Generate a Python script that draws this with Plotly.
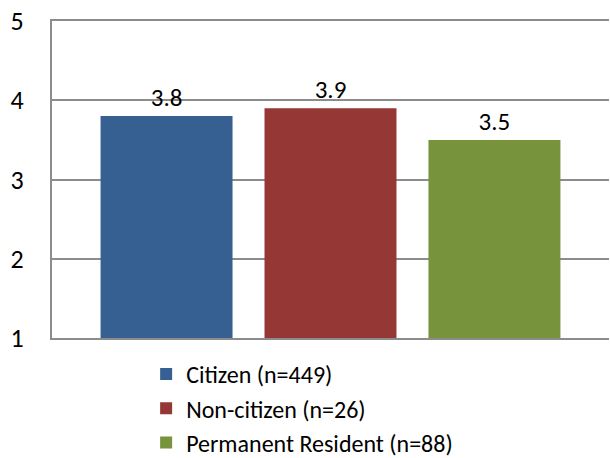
import plotly.graph_objects as go

# Mean scores by residency status
groups = ["Citizen (n=449)", "Non-citizen (n=26)", "Permanent Resident (n=88)"]
scores = [3.8, 3.9, 3.5]
colors = ["#376092", "#953735", "#77933C"]
y_ticks = [1, 2, 3, 4, 5]

FONT = "Carlito, Calibri, 'Open Sans', sans-serif"

fig = go.Figure()
for name, val, col in zip(groups, scores, colors):
    fig.add_trace(go.Bar(
        x=[""], y=[val], name=name,
        marker=dict(color=col, line=dict(width=0)),
        text=[f"{val:.1f}"], textposition="outside",
        textfont=dict(size=25, color="black", family=FONT),
        cliponaxis=False,
    ))

fig.update_layout(
    width=610, height=458,
    margin=dict(l=52, r=1, t=21, b=120, autoexpand=False),
    plot_bgcolor="white", paper_bgcolor="white",
    barmode="group", bargap=0.117, bargroupgap=0.195,
    font=dict(family=FONT, size=24, color="black"),
    showlegend=True,
    legend=dict(
        orientation="v", x=0.169, xanchor="left", y=-0.044, yanchor="top",
        font=dict(size=24, family=FONT), tracegroupgap=0,
        itemwidth=30,
    ),
    uniformtext=dict(mode=False),
)
# mirrored x-axis line gives the top border of the plot area
fig.update_xaxes(
    showline=True, mirror=True, linecolor="#8c8c8c", linewidth=2,
    showticklabels=False, ticks="",
)
fig.update_yaxes(
    range=[1, 5], tickvals=y_ticks, ticktext=[str(v) for v in y_ticks],
    showgrid=True, gridcolor="#8c8c8c", gridwidth=2,
    showline=True, linecolor="#8c8c8c", linewidth=2,
    zeroline=False, ticks="", ticklabelstandoff=21,
    tickfont=dict(size=26, family=FONT),
)

fig.write_html("out.html")
